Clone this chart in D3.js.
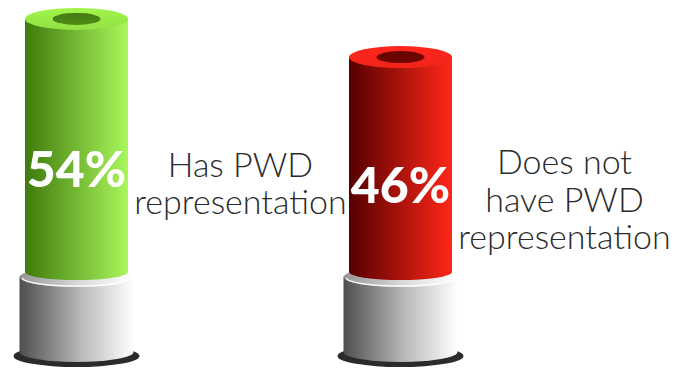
<!DOCTYPE html>
<html>
<head>
<meta charset="utf-8">
<script src="https://cdn.jsdelivr.net/npm/d3@7"></script>
<style>
  html, body { margin: 0; padding: 0; background: #fff; }
  svg { display: block; }
</style>
</head>
<body>
<div id="chart"></div>
<script>
// data
const categories = ['has', 'hasNot'];
const values = [54, 46];
const valueLabels = ['54%', '46%'];
const descLines = [
  ['Has PWD', 'representation'],
  ['Does not', 'have PWD', 'representation'],
];
const darkColors = ['#3f7a0c', '#560000'];
const lightColors = ['#a9f75c', '#ff2718'];
const faceColors = ['#93e044', '#f0241a'];
const holeColors = ['#4f8c16', '#740600'];

const width = 689;
const height = 369;

const svg = d3
  .select('#chart')
  .append('svg')
  .attr('width', width)
  .attr('height', height);

const defs = svg.append('defs');

const x = d3.scalePoint().domain(categories).range([76.5, 400.5]);
// 0% sits on the top of the grey base
const y = d3.scaleLinear().domain([0, 100]).range([277, 277 - 478]);

const colRx = 51.5;
const colRy = 11;
const holeRx = 24;
const holeRy = 6;
const baseRx = 57;
const baseRy = 10;
const baseBottom = 352;
const ringRx = 63;
const ringRy = 11;

function hGrad(id, stops) {
  const g = defs
    .append('linearGradient')
    .attr('id', id)
    .attr('x1', '0%')
    .attr('x2', '100%')
    .attr('y1', '0%')
    .attr('y2', '0%');
  stops.forEach(([o, c]) => g.append('stop').attr('offset', o).attr('stop-color', c));
}
function vGrad(id, stops) {
  const g = defs
    .append('linearGradient')
    .attr('id', id)
    .attr('x1', '0%')
    .attr('x2', '0%')
    .attr('y1', '0%')
    .attr('y2', '100%');
  stops.forEach(([o, c]) => g.append('stop').attr('offset', o).attr('stop-color', c));
}

hGrad('baseGrad', [['0%', '#4e4e4e'], ['55%', '#bbbbbb'], ['100%', '#ffffff']]);
hGrad('baseTopGrad', [['0%', '#959595'], ['50%', '#d8d8d8'], ['100%', '#ffffff']]);

categories.forEach((c, i) => {
  hGrad('body' + i, [['0%', darkColors[i]], ['100%', lightColors[i]]]);
  vGrad('face' + i, [['0%', d3.color(faceColors[i]).brighter(0.25)], ['100%', faceColors[i]]]);
  vGrad('hole' + i, [['0%', d3.color(holeColors[i]).darker(0.4)], ['100%', holeColors[i]]]);
});

const groups = svg
  .selectAll('.cyl')
  .data(categories)
  .enter()
  .append('g')
  .attr('class', 'cyl');

groups.each(function (c, i) {
  const g = d3.select(this);
  const cx = x(c);
  const top = y(values[i]);
  const bottom = y(0);

  // dark shadow ring under the base
  g.append('ellipse')
    .attr('cx', cx)
    .attr('cy', baseBottom + 4)
    .attr('rx', ringRx)
    .attr('ry', ringRy)
    .attr('fill', '#2b2b2b');

  // grey base body
  g.append('path')
    .attr(
      'd',
      `M${cx - baseRx},${bottom} L${cx - baseRx},${baseBottom} ` +
        `A${baseRx},${baseRy} 0 0 0 ${cx + baseRx},${baseBottom} ` +
        `L${cx + baseRx},${bottom} Z`
    )
    .attr('fill', 'url(#baseGrad)');

  // base top face
  g.append('ellipse')
    .attr('cx', cx)
    .attr('cy', bottom)
    .attr('rx', baseRx)
    .attr('ry', baseRy)
    .attr('fill', 'url(#baseTopGrad)');

  // highlight rim on base top
  g.append('path')
    .attr(
      'd',
      `M${cx - baseRx + 3},${bottom + 1} A${baseRx - 3},${baseRy - 2} 0 0 0 ${cx + baseRx - 3},${bottom + 1}`
    )
    .attr('fill', 'none')
    .attr('stroke', '#ffffff')
    .attr('stroke-width', 1.5)
    .attr('opacity', 0.9);

  // coloured column body
  const colBottom = bottom - 5;
  g.append('path')
    .attr(
      'd',
      `M${cx - colRx},${top} L${cx - colRx},${colBottom} ` +
        `A${colRx},${colRy - 3} 0 0 0 ${cx + colRx},${colBottom} ` +
        `L${cx + colRx},${top} Z`
    )
    .attr('fill', `url(#body${i})`);

  // top face
  g.append('ellipse')
    .attr('cx', cx)
    .attr('cy', top)
    .attr('rx', colRx)
    .attr('ry', colRy)
    .attr('fill', `url(#face${i})`);

  // hole
  g.append('ellipse')
    .attr('cx', cx)
    .attr('cy', top)
    .attr('rx', holeRx)
    .attr('ry', holeRy)
    .attr('fill', `url(#hole${i})`);

  // percentage label inside the column
  const labelY = y(values[i] * 0.42);
  g.append('text')
    .attr('x', cx)
    .attr('y', labelY)
    .attr('dy', '0.36em')
    .attr('text-anchor', 'middle')
    .attr('fill', '#ffffff')
    .style('font-family', 'Lato, "Open Sans", sans-serif')
    .style('font-weight', 900)
    .style('font-size', '50px')
    .text(valueLabels[i]);

  // description to the right
  const lines = descLines[i];
  const lineH = 37.5;
  const midY = labelY + 15;
  const desc = g
    .append('text')
    .attr('text-anchor', 'middle')
    .attr('fill', '#2a2a2a')
    .style('font-family', 'Lato, "Open Sans", sans-serif')
    .style('font-weight', 300)
    .style('font-size', '34px');
  lines.forEach((t, k) => {
    desc
      .append('tspan')
      .attr('x', cx + 164)
      .attr('y', midY - ((lines.length - 1) * lineH) / 2 + k * lineH)
      .attr('dy', '0.35em')
      .text(t);
  });
});
</script>
</body>
</html>
